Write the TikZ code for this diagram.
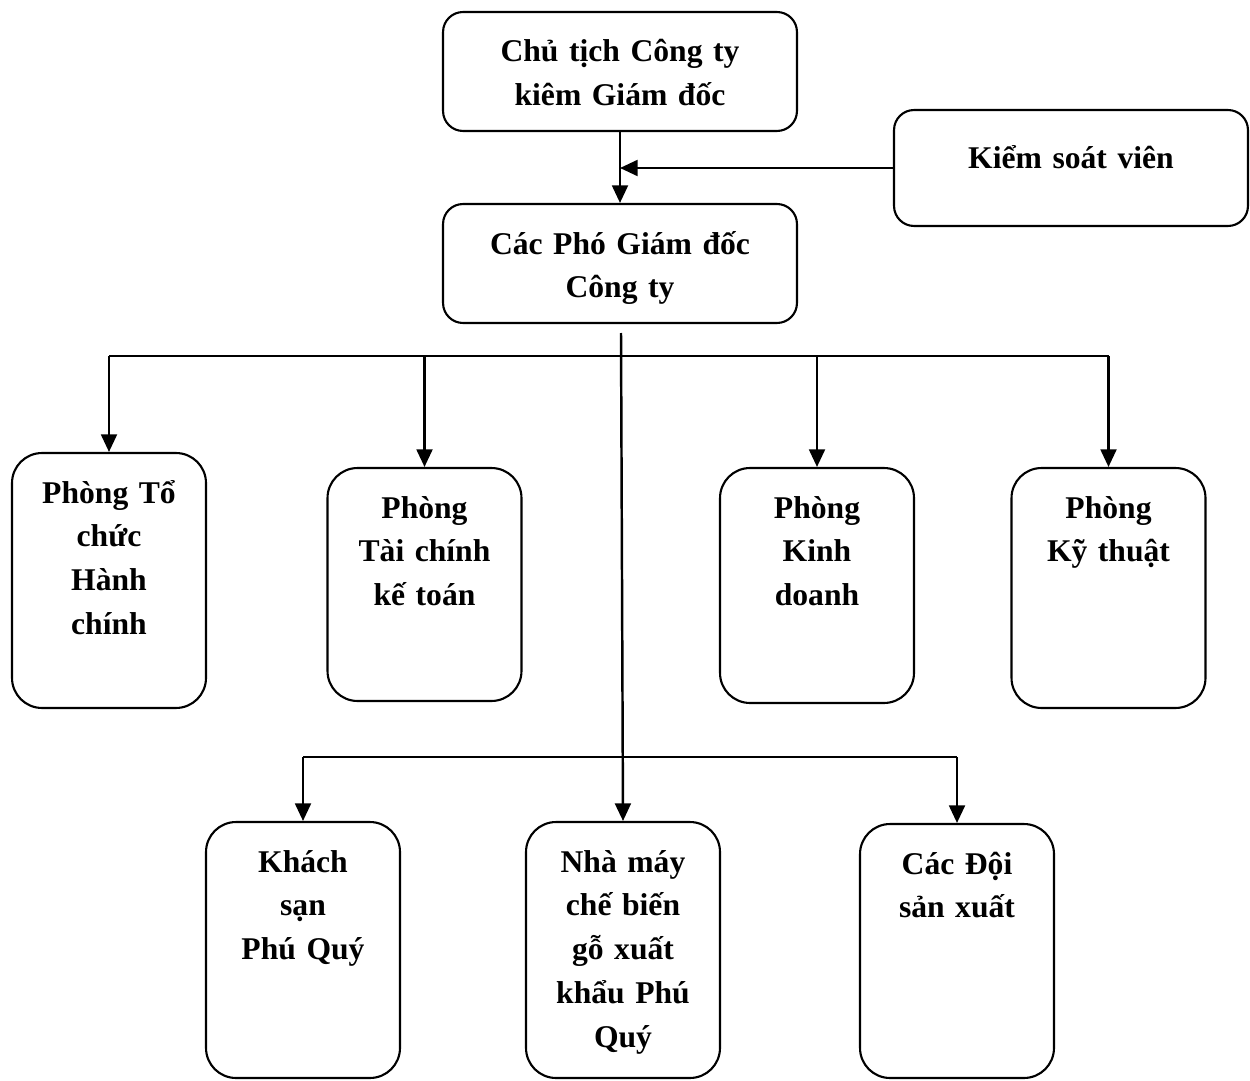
\documentclass[tikz,border=0pt]{standalone}
\usepackage{fontspec}
\setmainfont{Liberation Serif}
\usepackage{tikz}
\usetikzlibrary{arrows.meta}

\begin{document}
\begin{tikzpicture}[x=0.02cm,y=-0.02cm,
  unit/.style={draw,line width=1.2pt,rounded corners=0.6cm,align=center,inner xsep=0.1cm,inner ysep=0.25cm,text height=0.75cm,font=\fontsize{18}{25}\selectfont\bfseries},
  wide/.style={unit,text width=6.88cm,rounded corners=0.4cm},
  dept/.style={unit,text width=3.68cm},
  link/.style={line width=1.4pt},
  arr/.style={link,-{Triangle[length=10pt,width=9pt]}}]
\useasboundingbox (0,0) rectangle (1250,1081);
\node (ct) at (620,71.5)[wide,text depth=1.13cm] {Chủ tịch Công ty\\kiêm Giám đốc};
\node (pgd) at (620,263.5)[wide,text depth=1.13cm] {Các Phó Giám đốc\\Công ty};
\node (ksv) at (1071,168)[wide,text height=0.92cm,text depth=0.9cm] {Kiểm soát viên};
\node (hc) at (109,580.5)[dept,text depth=3.85cm] {Phòng Tổ\\chức\\Hành\\chính};
\node (tc) at (424.5,584.5)[dept,text depth=3.41cm] {Phòng\\Tài chính\\kế toán};
\node (kd) at (817,585.5)[dept,text depth=3.45cm] {Phòng\\Kinh\\doanh};
\node (kt) at (1108.5,588)[dept,text depth=3.55cm] {Phòng\\Kỹ thuật};
\node (ks) at (303,950)[dept,text depth=3.87cm] {Khách\\sạn\\Phú Quý};
\node (nm) at (623,950)[dept,text depth=3.87cm] {Nhà máy\\chế biến\\gỗ xuất\\khẩu Phú\\Quý};
\node (cd) at (957,951)[dept,text depth=3.83cm] {Các Đội\\sản xuất};
\coordinate (trunk) at (621,333);
\coordinate (b1) at (621,356);
\coordinate (b2) at (621,757);
\draw [arr] (ct) -- (pgd);
\draw [arr] (ksv.west) -- (ksv.west -| ct.south);
\draw [arr] (trunk) -- (nm.north);
\draw [link] (hc.north |- b1) -- (kt.north |- b1);
\foreach \n in {hc,tc,kd,kt}
  \draw [arr] (\n.north |- b1) -- (\n.north);
\draw [link] (ks.north |- b2) -- (cd.north |- b2);
\foreach \n in {ks,cd}
  \draw [arr] (\n.north |- b2) -- (\n.north);
\end{tikzpicture}
\end{document}
